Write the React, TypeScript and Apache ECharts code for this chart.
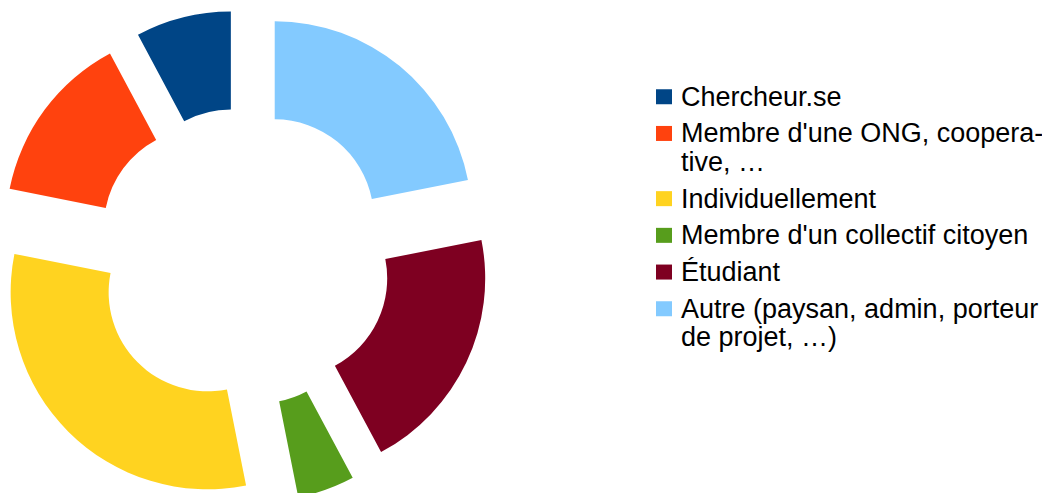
import React, { useEffect, useRef } from "react";
import * as echarts from "echarts";

const categories = [
  "Chercheur.se",
  "Membre d'une ONG, cooperative, …",
  "Individuellement",
  "Membre d'un collectif citoyen",
  "Étudiant",
  "Autre (paysan, admin, porteur de projet, …)",
];
const legendLabels = [
  "Chercheur.se",
  "Membre d'une ONG, coopera-\ntive, …",
  "Individuellement",
  "Membre d'un collectif citoyen",
  "Étudiant",
  "Autre (paysan, admin, porteur\nde projet, …)",
];
const values = [5, 9, 20, 3, 13, 14];
const colors = ["#004586", "#ff420e", "#ffd320", "#579d1c", "#7e0021", "#83caff"];

const FONT = "'Liberation Sans', Arial, sans-serif";
const FONT_SIZE = 27;
const LINE_H = 28.5;
const ITEM_PITCH = 36.7;
const FIRST_CENTER = 97.5;

export default function App() {
  const ref = useRef<HTMLDivElement>(null);
  useEffect(() => {
    if (!ref.current) return;
    const chart = echarts.init(ref.current, undefined, { renderer: "svg" });

    const legends: any[] = [];
    let center = FIRST_CENTER;
    categories.forEach((name, i) => {
      const textLines = legendLabels[i].split("\n");
      const lines = textLines.length;
      const extra = (lines - 1) * LINE_H;
      const boxH = LINE_H * lines + extra;
      legends.push({
        show: true,
        orient: "vertical",
        left: 656,
        top: center - boxH / 2 + extra,
        padding: 0,
        itemWidth: 16,
        itemHeight: 15,
        itemGap: 0,
        icon: "rect",
        selectedMode: false,
        data: [name],
        formatter: () => textLines.map((t) => "{a|" + t + "}").join("\n"),
        textStyle: {
          padding: [extra, 0, 0, 4],
          rich: {
            a: {
              fontFamily: FONT,
              fontSize: FONT_SIZE,
              color: "#000",
              lineHeight: LINE_H,
            },
          },
        },
      });
      center += (lines - 1) * LINE_H + ITEM_PITCH;
    });

    chart.setOption({
      animation: false,
      color: colors,
      legend: legends,
      series: [
        {
          type: "pie",
          center: [243, 257],
          radius: [99, 197],
          startAngle: 90,
          clockwise: false,
          selectedMode: "multiple",
          selectedOffset: 50,
          avoidLabelOverlap: false,
          label: { show: false },
          labelLine: { show: false },
          itemStyle: { borderWidth: 0 },
          emphasis: { disabled: true, scale: false },
          select: { itemStyle: { borderWidth: 0 } },
          data: categories.map((name, i) => ({
            name,
            value: values[i],
            selected: true,
          })),
        },
      ],
    });
    return () => chart.dispose();
  }, []);
  return (
    <div
      ref={ref}
      style={{ position: "absolute", left: 0, top: 0, width: 1042, height: 493, background: "#fff" }}
    />
  );
}
